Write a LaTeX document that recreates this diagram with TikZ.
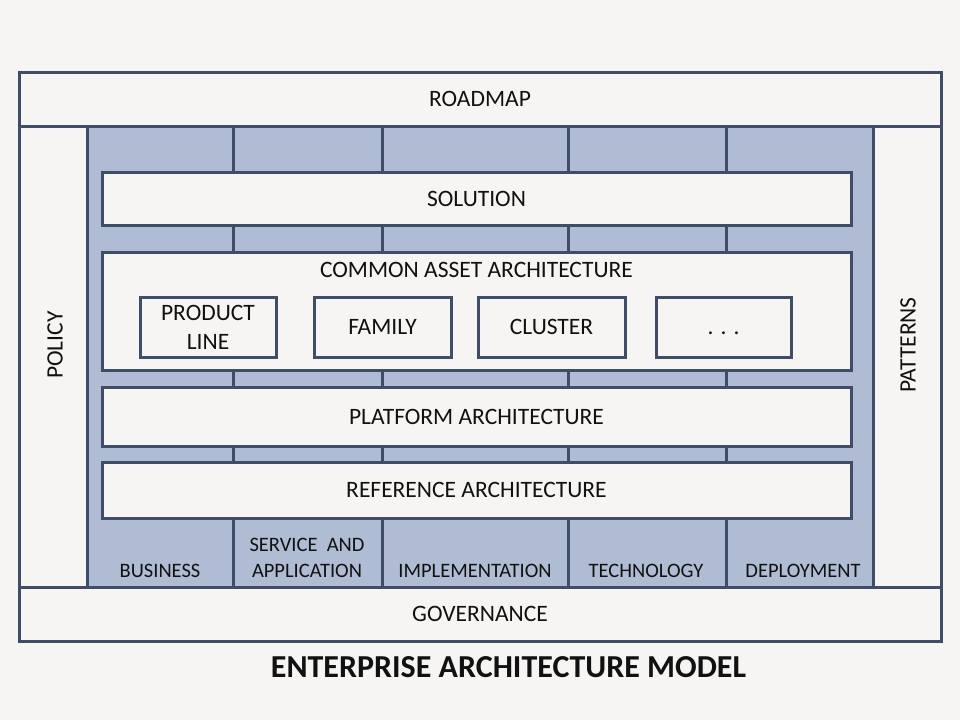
\documentclass[tikz,border=0pt]{standalone}
\usepackage{fontspec}
\setmainfont{Carlito}
\usepackage{xcolor}
\usepackage{tikz}
\definecolor{edge}{HTML}{3F4D68}
\definecolor{slate}{HTML}{B0BCD4}
\definecolor{paper}{HTML}{F6F5F3}
\definecolor{ink}{HTML}{111111}

\begin{document}
\begin{tikzpicture}[x=1pt,y=-1pt,line width=3pt,
  txt/.style={text=ink,font=\fontsize{23.5}{28}\selectfont,inner sep=0pt},
  col/.style={text=ink,font=\fontsize{20.5}{26}\selectfont,inner sep=0pt,align=center,anchor=base},
  band/.style={txt,draw=edge,fill=paper,minimum width=749pt},
  item/.style={txt,draw=edge,fill=paper,minimum height=60pt,align=center}]
\fill[paper] (0,0) rectangle (960,720);
\useasboundingbox (0,0) rectangle (960,720);
\fill[slate] (87,126) rectangle (873,587);
\foreach \a in {233,382,568,726}{
	\draw[edge] (\a,126)--(\a,587);
}
\draw[edge] (87,126)--(87,587);
\draw[edge] (873,126)--(873,587);
\draw[edge] (19,72) rectangle (941,641);
\draw[edge] (19,126)--(941,126);
\draw[edge] (19,587)--(941,587);
\node[txt] (roadmap) at (480,99) {ROADMAP};
\node[txt] (governance) at (480,614) {GOVERNANCE};
\node[txt,rotate=90] (policy) at (55,345) {POLICY};
\node[txt,rotate=90] (patterns) at (908,345) {PATTERNS};
\node[band,minimum height=53pt] (solution) at (476.5,198.5) {SOLUTION};
\node[band,minimum height=118pt] (asset) at (476.5,311) {};
\node[txt] (assetlbl) at (476.5,270) {COMMON ASSET ARCHITECTURE};
\node[item,minimum width=136pt,font=\fontsize{23.5}{29}\selectfont] (line) at (208,327) {PRODUCT\\LINE};
\node[item,minimum width=137pt] (family) at (382.5,327) {FAMILY};
\node[item,minimum width=147pt] (cluster) at (551.5,327) {CLUSTER};
\node[item,minimum width=135pt] (more) at (723.5,327) {\vphantom{C}. . .};
\node[band,minimum height=59pt] (platform) at (476.5,416.5) {PLATFORM ARCHITECTURE};
\node[band,minimum height=56pt] (reference) at (476.5,490) {REFERENCE ARCHITECTURE};
\node[col] (business) at (160,577) {BUSINESS};
\node[col] (service) at (307,577) {SERVICE~ AND\\APPLICATION};
\node[col] (implementation) at (475,577) {IMPLEMENTATION};
\node[col] (technology) at (646,577) {TECHNOLOGY};
\node[col] (deployment) at (803,577) {DEPLOYMENT};
\node[text=ink,font=\fontsize{32}{36}\selectfont\bfseries,inner sep=0pt] (title) at (508.5,667.5) {ENTERPRISE ARCHITECTURE MODEL};
\end{tikzpicture}
\end{document}
